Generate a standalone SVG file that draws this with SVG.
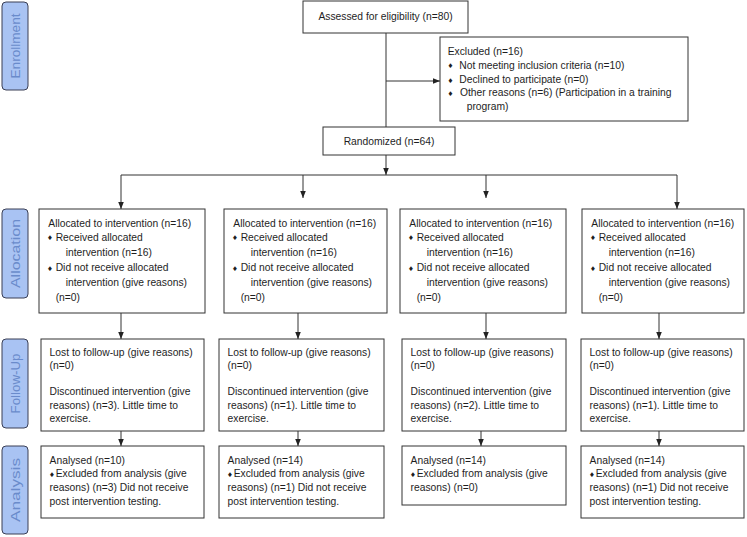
<svg xmlns="http://www.w3.org/2000/svg" width="747" height="537" viewBox="0 0 747 537">
<style>
.bg{fill:#fff}
.box{fill:#fff;stroke:#333;stroke-width:1}
.lab{fill:#a9c3f3;stroke:#3a3f55;stroke-width:1}
.labt{font-family:"Liberation Sans",Arial,sans-serif;font-size:13px;fill:#6a8bcb;text-anchor:middle}
.t{font-family:"Liberation Sans",Arial,sans-serif;font-size:10.3px;fill:#1e1e1e}
.c{text-anchor:middle}
.b{font-family:"DejaVu Sans",sans-serif;font-size:6.5px;fill:#1e1e1e}
.ln{fill:none;stroke:#333;stroke-width:1}
</style>
<defs>
<marker id="ah" viewBox="0 0 10 10" refX="10" refY="5" markerWidth="7" markerHeight="7" markerUnits="userSpaceOnUse" orient="auto">
<path d="M0,1 L10,5 L0,9 z" fill="#222"/>
</marker>
</defs>
<rect class="bg" x="0" y="0" width="747" height="537"/>

<g id="label-enrollment">
<rect class="lab" x="2" y="2" width="26" height="88" rx="4"/>
<text class="labt" transform="translate(20.2,46) rotate(-90)" textLength="65" lengthAdjust="spacingAndGlyphs">Enrollment</text>
</g>
<g id="label-allocation">
<rect class="lab" x="2" y="209" width="26" height="89" rx="4"/>
<text class="labt" transform="translate(20.2,253.5) rotate(-90)" textLength="69" lengthAdjust="spacingAndGlyphs">Allocation</text>
</g>
<g id="label-followup">
<rect class="lab" x="2" y="339" width="26" height="89" rx="4"/>
<text class="labt" transform="translate(20.2,383.5) rotate(-90)" textLength="60" lengthAdjust="spacingAndGlyphs">Follow-Up</text>
</g>
<g id="label-analysis">
<rect class="lab" x="2" y="446" width="26" height="88" rx="4"/>
<text class="labt" transform="translate(20.2,490) rotate(-90)" textLength="64" lengthAdjust="spacingAndGlyphs">Analysis</text>
</g>

<g id="connectors">
<path class="ln" d="M386,33 V127"/>
<path class="ln" d="M386,81 H440" marker-end="url(#ah)"/>
<path class="ln" d="M386,155 V175" marker-end="url(#ah)"/>
<path class="ln" d="M121,175 H677"/>
<path class="ln" d="M121,175 V209" marker-end="url(#ah)"/>
<path class="ln" d="M303,175 V198" marker-end="url(#ah)"/>
<path class="ln" d="M486,175 V198" marker-end="url(#ah)"/>
<path class="ln" d="M677,175 V209" marker-end="url(#ah)"/>
<path class="ln" d="M121,313 V339" marker-end="url(#ah)"/>
<path class="ln" d="M298,313 V339" marker-end="url(#ah)"/>
<path class="ln" d="M486,313 V339" marker-end="url(#ah)"/>
<path class="ln" d="M659,313 V339" marker-end="url(#ah)"/>
<path class="ln" d="M121,431 V446" marker-end="url(#ah)"/>
<path class="ln" d="M298,431 V446" marker-end="url(#ah)"/>
<path class="ln" d="M481,431 V446" marker-end="url(#ah)"/>
<path class="ln" d="M659,431 V446" marker-end="url(#ah)"/>
</g>

<g id="assessed">
<rect class="box" x="303" y="1" width="165" height="32"/>
<text class="t c" x="385.5" y="20">Assessed for eligibility (n=80)</text>
</g>

<g id="excluded">
<rect class="box" x="440" y="37" width="248" height="84"/>
<text class="t" x="447.7" y="55.4">Excluded (n=16)</text>
<text class="b" x="447.5" y="68.3">♦</text><text class="t" x="459.3" y="68.7">Not meeting inclusion criteria (n=10)</text>
<text class="b" x="447.5" y="82.6">♦</text><text class="t" x="459.3" y="83">Declined to participate (n=0)</text>
<text class="b" x="447.5" y="95.6">♦</text><text class="t" x="460" y="96">Other reasons (n=6) (Participation in a training</text>
<text class="t" x="466.7" y="110.4">program)</text>
</g>

<g id="randomized">
<rect class="box" x="323" y="127" width="132" height="28"/>
<text class="t c" x="389" y="145.4">Randomized (n=64)</text>
</g>

<g id="alloc1" transform="translate(39,0)">
<rect class="box" x="0" y="209" width="166" height="104"/>
<text class="t" x="9.3" y="226.5">Allocated to intervention (n=16)</text>
<text class="b" x="8" y="240.3">♦</text><text class="t" x="16.7" y="240.7">Received allocated</text>
<text class="t" x="26.7" y="255.5">intervention (n=16)</text>
<text class="b" x="8" y="271">♦</text><text class="t" x="16.7" y="271.4">Did not receive allocated</text>
<text class="t" x="26.7" y="286">intervention (give reasons)</text>
<text class="t" x="16.7" y="301.3">(n=0)</text>
</g>
<g id="alloc2" transform="translate(224,0)">
<rect class="box" x="0" y="209" width="163" height="104"/>
<text class="t" x="9.3" y="226.5">Allocated to intervention (n=16)</text>
<text class="b" x="8" y="240.3">♦</text><text class="t" x="16.7" y="240.7">Received allocated</text>
<text class="t" x="26.7" y="255.5">intervention (n=16)</text>
<text class="b" x="8" y="271">♦</text><text class="t" x="16.7" y="271.4">Did not receive allocated</text>
<text class="t" x="26.7" y="286">intervention (give reasons)</text>
<text class="t" x="16.7" y="301.3">(n=0)</text>
</g>
<g id="alloc3" transform="translate(400,0)">
<rect class="box" x="0" y="209" width="166" height="104"/>
<text class="t" x="9.3" y="226.5">Allocated to intervention (n=16)</text>
<text class="b" x="8" y="240.3">♦</text><text class="t" x="16.7" y="240.7">Received allocated</text>
<text class="t" x="26.7" y="255.5">intervention (n=16)</text>
<text class="b" x="8" y="271">♦</text><text class="t" x="16.7" y="271.4">Did not receive allocated</text>
<text class="t" x="26.7" y="286">intervention (give reasons)</text>
<text class="t" x="16.7" y="301.3">(n=0)</text>
</g>
<g id="alloc4" transform="translate(582,0)">
<rect class="box" x="0" y="209" width="162" height="104"/>
<text class="t" x="9.3" y="226.5">Allocated to intervention (n=16)</text>
<text class="b" x="8" y="240.3">♦</text><text class="t" x="16.7" y="240.7">Received allocated</text>
<text class="t" x="26.7" y="255.5">intervention (n=16)</text>
<text class="b" x="8" y="271">♦</text><text class="t" x="16.7" y="271.4">Did not receive allocated</text>
<text class="t" x="26.7" y="286">intervention (give reasons)</text>
<text class="t" x="16.7" y="301.3">(n=0)</text>
</g>

<g id="follow1" transform="translate(41,0)">
<rect class="box" x="0" y="339" width="163" height="92"/>
<text class="t" x="8.6" y="356">Lost to follow-up (give reasons)</text>
<text class="t" x="8.6" y="369.4">(n=0)</text>
<text class="t" x="8.6" y="395.4">Discontinued intervention (give</text>
<text class="t" x="8.6" y="408.8">reasons) (n=3). Little time to</text>
<text class="t" x="8.6" y="422.4">exercise.</text>
</g>
<g id="follow2" transform="translate(219,0)">
<rect class="box" x="0" y="339" width="165" height="92"/>
<text class="t" x="8.6" y="356">Lost to follow-up (give reasons)</text>
<text class="t" x="8.6" y="369.4">(n=0)</text>
<text class="t" x="8.6" y="395.4">Discontinued intervention (give</text>
<text class="t" x="8.6" y="408.8">reasons) (n=1). Little time to</text>
<text class="t" x="8.6" y="422.4">exercise.</text>
</g>
<g id="follow3" transform="translate(402,0)">
<rect class="box" x="0" y="339" width="164" height="92"/>
<text class="t" x="8.6" y="356">Lost to follow-up (give reasons)</text>
<text class="t" x="8.6" y="369.4">(n=0)</text>
<text class="t" x="8.6" y="395.4">Discontinued intervention (give</text>
<text class="t" x="8.6" y="408.8">reasons) (n=2). Little time to</text>
<text class="t" x="8.6" y="422.4">exercise.</text>
</g>
<g id="follow4" transform="translate(581,0)">
<rect class="box" x="0" y="339" width="163" height="92"/>
<text class="t" x="8.6" y="356">Lost to follow-up (give reasons)</text>
<text class="t" x="8.6" y="369.4">(n=0)</text>
<text class="t" x="8.6" y="395.4">Discontinued intervention (give</text>
<text class="t" x="8.6" y="408.8">reasons) (n=1). Little time to</text>
<text class="t" x="8.6" y="422.4">exercise.</text>
</g>

<g id="analysis1" transform="translate(41,0)">
<rect class="box" x="0" y="446" width="163" height="72"/>
<text class="t" x="8.6" y="463.7">Analysed (n=10)</text>
<text class="b" x="8" y="476.6">♦</text><text class="t" x="14.7" y="477">Excluded from analysis (give</text>
<text class="t" x="8.6" y="491">reasons) (n=3) Did not receive</text>
<text class="t" x="8.6" y="505.4">post intervention testing.</text>
</g>
<g id="analysis2" transform="translate(219,0)">
<rect class="box" x="0" y="446" width="165" height="72"/>
<text class="t" x="8.6" y="463.7">Analysed (n=14)</text>
<text class="b" x="8" y="476.6">♦</text><text class="t" x="14.7" y="477">Excluded from analysis (give</text>
<text class="t" x="8.6" y="491">reasons) (n=1) Did not receive</text>
<text class="t" x="8.6" y="505.4">post intervention testing.</text>
</g>
<g id="analysis3" transform="translate(402,0)">
<rect class="box" x="0" y="446" width="164" height="59"/>
<text class="t" x="8.6" y="463.7">Analysed (n=14)</text>
<text class="b" x="8" y="476.6">♦</text><text class="t" x="14.7" y="477">Excluded from analysis (give</text>
<text class="t" x="8.6" y="491">reasons) (n=0)</text>
</g>
<g id="analysis4" transform="translate(581,0)">
<rect class="box" x="0" y="446" width="163" height="72"/>
<text class="t" x="8.6" y="463.7">Analysed (n=14)</text>
<text class="b" x="8" y="476.6">♦</text><text class="t" x="14.7" y="477">Excluded from analysis (give</text>
<text class="t" x="8.6" y="491">reasons) (n=1) Did not receive</text>
<text class="t" x="8.6" y="505.4">post intervention testing.</text>
</g>
</svg>
